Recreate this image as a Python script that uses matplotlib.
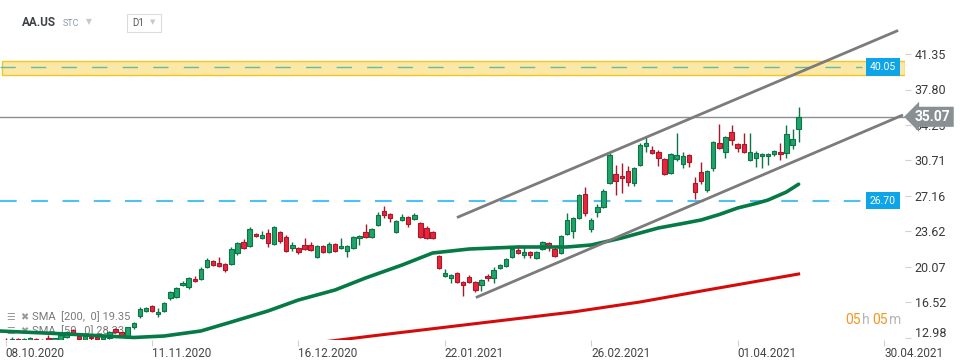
import matplotlib.pyplot as plt
from matplotlib.patches import Rectangle
from matplotlib.transforms import ScaledTranslation

plt.rcParams['font.family'] = ['Roboto', 'DejaVu Sans']

# daily candles, index 0 = 08.10.2020
opens = [12.8, 12.6, 12.9, 12.7, 12.65, 12.9, 12.7, 12.9, 12.8, 12.75,
         13.05, 13.75, 13.15, 12.75, 13.1, 12.95, 12.9, 12.95, 13.85, 13.55,
         13.05, 14.05, 15.15, 15.65, 16.15, 15.35, 15.65, 16.95, 17.05, 18.25,
         18.05, 18.85, 18.85, 20.05, 20.65, 20.45, 20.35, 20.35, 21.45, 22.55,
         22.15, 23.35, 22.95, 23.45, 22.35, 23.55, 23.05, 21.95, 21.95, 22.25,
         22.25, 21.05, 22.15, 21.55, 22.35, 21.95, 21.65, 21.95, 22.95, 23.55,
         23.05, 24.25, 25.65, 25.35, 23.55, 24.75, 25.05, 24.85, 24.45, 23.95,
         23.55, 21.15, 19.15, 18.95, 19.45, 18.55, 19.05, 18.55, 18.25, 19.15,
         18.95, 19.95, 20.15, 21.05, 21.75, 21.25, 21.55, 20.95, 21.85, 22.45,
         21.85, 21.45, 23.35, 23.65, 24.95, 27.35, 23.85, 25.55, 26.05, 28.45,
         29.35, 29.15, 29.65, 28.45, 30.25, 32.15, 31.75, 31.55, 30.85, 29.45,
         30.85, 30.35, 31.25, 28.45, 29.55, 27.75, 29.95, 32.45, 31.55, 33.55,
         32.35, 32.35, 30.75, 30.95, 31.15, 31.15, 31.35, 31.55, 31.45, 32.25,
         33.85]
highs = [13.0, 13.1, 13.0, 12.95, 13.05, 13.0, 12.9, 13.25, 13.0, 13.4,
         13.65, 13.85, 13.3, 13.2, 13.2, 13.1, 13.15, 13.65, 13.95, 13.6,
         14.1, 14.55, 16.05, 16.05, 16.3, 15.95, 16.55, 17.65, 18.05, 18.65,
         19.05, 19.15, 20.05, 20.95, 20.75, 21.05, 20.45, 22.05, 22.6, 22.85,
         24.05, 23.5, 23.65, 23.85, 24.2, 23.7, 23.25, 22.55, 22.05, 22.95,
         22.55, 22.25, 22.25, 22.55, 22.45, 22.95, 22.25, 23.15, 23.3, 24.35,
         23.95, 25.55, 26.15, 25.45, 24.75, 25.35, 25.15, 25.45, 24.55, 24.15,
         23.7, 21.3, 19.85, 19.35, 19.55, 18.65, 19.25, 18.65, 18.85, 19.35,
         20.05, 20.35, 20.95, 21.95, 22.25, 22.05, 21.65, 21.65, 22.65, 22.55,
         22.15, 23.25, 25.45, 25.05, 27.35, 28.05, 24.95, 26.35, 27.85, 31.45,
         30.25, 30.45, 30.15, 30.05, 32.45, 33.05, 32.15, 31.75, 30.95, 31.45,
         33.45, 31.55, 31.35, 29.05, 30.55, 29.75, 32.65, 34.35, 33.15, 34.25,
         32.45, 33.45, 33.45, 31.65, 31.45, 31.45, 31.75, 32.45, 34.25, 33.85,
         36.05]
lows = [12.4, 12.5, 12.5, 12.5, 12.55, 12.5, 12.4, 12.6, 12.6, 12.7,
        12.95, 13.35, 12.8, 12.7, 12.8, 12.7, 12.8, 12.9, 13.5, 13.05,
        13.0, 13.85, 15.0, 15.6, 15.6, 15.05, 15.6, 16.75, 16.95, 18.2,
        17.9, 18.6, 18.8, 19.95, 20.2, 20.05, 19.55, 20.3, 21.25, 21.9,
        22.05, 23.05, 22.9, 22.05, 22.25, 22.5, 21.55, 21.65, 21.35, 21.75,
        21.65, 20.95, 21.45, 21.45, 21.55, 21.85, 21.05, 21.85, 22.25, 22.95,
        22.95, 24.15, 24.95, 24.55, 23.45, 24.65, 24.1, 24.75, 22.95, 22.85,
        22.85, 19.85, 19.05, 18.45, 18.45, 17.15, 18.45, 17.55, 17.65, 18.65,
        18.45, 19.85, 20.05, 20.95, 21.35, 20.95, 20.95, 20.85, 21.75, 21.65,
        21.05, 21.35, 23.25, 22.95, 24.85, 25.15, 23.55, 25.05, 25.95, 28.35,
        27.25, 27.45, 28.15, 28.15, 30.15, 31.55, 31.35, 30.15, 29.25, 29.35,
        30.65, 29.95, 30.05, 26.85, 28.35, 27.55, 29.65, 31.85, 30.95, 32.25,
        31.55, 31.45, 30.65, 30.05, 29.95, 30.25, 31.15, 30.75, 30.95, 31.85,
        32.55]
closes = [12.6, 12.9, 12.7, 12.8, 12.95, 12.7, 12.6, 12.8, 12.9, 13.25,
          13.55, 13.45, 12.85, 13.15, 12.95, 12.9, 13.0, 13.55, 13.55, 13.15,
          14.05, 14.45, 15.85, 15.95, 15.65, 15.55, 16.45, 17.55, 17.95, 18.45,
          18.95, 18.65, 19.85, 20.75, 20.25, 20.15, 19.75, 21.85, 22.45, 21.95,
          23.85, 23.15, 23.25, 22.45, 24.05, 22.65, 21.65, 22.25, 21.55, 21.85,
          21.75, 22.15, 21.55, 22.35, 21.65, 22.15, 22.15, 23.05, 23.15, 23.05,
          23.85, 25.25, 25.25, 24.95, 24.65, 25.05, 24.35, 25.25, 23.05, 22.95,
          22.95, 19.95, 19.45, 19.25, 18.55, 18.25, 18.55, 17.75, 18.75, 18.95,
          19.75, 20.25, 20.85, 21.85, 21.45, 21.55, 21.25, 21.55, 22.55, 22.05,
          21.15, 23.15, 24.75, 24.95, 27.25, 25.45, 24.75, 26.05, 27.65, 31.25,
          28.65, 28.95, 28.55, 29.95, 32.25, 32.45, 31.45, 30.95, 29.35, 31.35,
          31.25, 31.15, 30.55, 27.55, 28.65, 29.65, 32.55, 31.95, 33.05, 32.75,
          31.95, 31.55, 31.55, 31.45, 31.35, 31.35, 31.65, 31.35, 33.35, 32.85,
          35.07]

# moving averages
sma50_idx = [-1, 10, 21, 26, 32, 37, 43, 48, 54, 59, 65, 70, 73, 76, 84, 92, 96,
             101, 107, 111, 114, 117, 120, 123, 125, 128, 130]
sma50_val = [13.65, 13.35, 13.0, 13.15, 13.65, 14.55, 15.65, 16.75, 17.75, 18.95,
             20.25, 21.45, 21.65, 21.85, 22.05, 22.05, 22.25, 22.95, 23.95, 24.4,
             24.75, 25.3, 25.95, 26.4, 26.75, 27.55, 28.33]
sma200_idx = [50, 60, 71, 82, 93, 104, 115, 130]
sma200_val = [12.4, 13.15, 13.95, 14.75, 15.55, 16.55, 17.75, 19.35]

# trend channel
upper_idx = [74.2, 146.1]
upper_val = [25.05, 43.65]
lower_idx = [77.3, 146.9]
lower_val = [17.05, 35.2]

# levels
zone_low, zone_high = 39.3, 40.65
zone_level = 40.05
support_level = 26.70
last_price = 35.07

date_pos = [0, 24, 48, 72, 96, 120, 144]
date_labels = ['08.10.2020', '11.11.2020', '16.12.2020', '22.01.2021',
               '26.02.2021', '01.04.2021', '30.04.2021']
price_ticks = [41.35, 37.80, 34.25, 30.71, 27.16, 23.62, 20.07, 16.52, 12.98]

W, H = 970, 364
fig = plt.figure(figsize=(W / 100, H / 100), dpi=100)
ax = fig.add_axes([0, 24 / H, 905 / W, 340 / H])
ax.set_xlim(-0.92, 147.44)
ax.set_ylim(12.75, 46.75)
for s in ax.spines.values():
    s.set_visible(False)

def px(x, y):
    return x / W, 1 - y / H

# candles
up_face, up_edge = '#20a46b', '#0d7445'
dn_face, dn_edge = '#e8263b', '#a8182a'
for i in range(len(opens)):
    o, h, l, c = opens[i], highs[i], lows[i], closes[i]
    up = c >= o
    ec = up_edge if up else dn_edge
    fc = up_face if up else dn_face
    ax.vlines(i, l, h, color=ec, lw=1.0, zorder=4)
    ax.bar(i, max(abs(c - o), 0.12), bottom=min(o, c), width=0.72,
           color=fc, edgecolor=ec, linewidth=0.8, zorder=5)

ax.plot(sma50_idx, sma50_val, color='#067a45', lw=2.6, zorder=6,
        solid_capstyle='round', solid_joinstyle='round')
ax.plot(sma200_idx, sma200_val, color='#d50b0b', lw=2.2, zorder=6)

ax.plot(upper_idx, upper_val, color='#7b7b7b', lw=2.0, zorder=6)
ax.plot(lower_idx, lower_val, color='#7b7b7b', lw=2.0, zorder=6)

# resistance zone
ax.axhspan(zone_low, zone_high, xmin=0.002, xmax=1.0, facecolor='#fbe8a6',
           edgecolor='#f2c624', lw=1.0, zorder=1)
ax.axhline(zone_level, xmin=0, xmax=862 / 905, color='#62bd9c', lw=1.0,
           ls=(0, (11, 11)), zorder=2)
ax.axhline(support_level, xmin=0, xmax=862 / 905, color='#4fc0f2', lw=1.5,
           ls=(0, (8, 7)), zorder=2)
ax.axhline(last_price, color='#8a8f93', lw=1.0, zorder=2)

tb = ax.get_yaxis_transform()
for lvl in (zone_level, support_level):
    ax.text(883 / 905, lvl, f'{lvl:.2f}', transform=tb, ha='center', va='center',
            color='white', fontsize=7.5, zorder=8,
            bbox=dict(boxstyle='square,pad=0.38', fc='#0ea4e8', ec='none'))
ax.text(1.011, last_price, f'{last_price:.2f}', transform=tb, ha='left',
        va='center', color='white', fontsize=10, fontweight='bold', zorder=10,
        clip_on=False,
        bbox=dict(boxstyle='larrow,pad=0.22', fc='#899094', ec='none'))

# axes ticks
ax.yaxis.tick_right()
ax.set_yticks(price_ticks)
ax.set_yticklabels([f'{v:.2f}' for v in price_ticks])
ax.tick_params(axis='y', length=4, color='#d0d0d0', labelcolor='#3a3a3a',
               labelsize=9, pad=3)
ax.set_xticks(date_pos)
ax.set_xticklabels(date_labels, ha='left')
ax.tick_params(axis='x', length=4, color='#d0d0d0', labelcolor='#444444',
               labelsize=8.5, pad=1)
bottom_lab = ax.get_yticklabels()[-1]
bottom_lab.set_transform(bottom_lab.get_transform() +
                         ScaledTranslation(0, 4 / 72, fig.dpi_scale_trans))

# header
fig.text(*px(22, 23), 'AA.US', fontsize=8.5, fontweight='bold', color='#3d4247',
         va='center')
fig.text(*px(63, 24), 'STC', fontsize=6.5, color='#8c9aa8', va='center')
fig.text(*px(86, 22), '▼', fontsize=5.5, color='#c8c8c8', va='center',
         family='DejaVu Sans')
fig.add_artist(Rectangle(px(127, 32), 34 / W, 18 / H, transform=fig.transFigure,
                         fc='white', ec='#dcdcdc', lw=0.8))
fig.text(*px(132, 23), 'D1', fontsize=7, color='#555555', va='center')
fig.text(*px(150, 22.5), '▼', fontsize=5, color='#c8c8c8', va='center',
         family='DejaVu Sans')

# indicator legend
for y, label in ((317, 'SMA  [200,  0] 19.35'), (331, 'SMA  [50,  0] 28.33')):
    ax.text(*px(6, y), '☰', transform=fig.transFigure, fontsize=7,
            color='#9a9a9a', va='center', family='DejaVu Sans', zorder=3)
    ax.text(*px(20, y), '✖', transform=fig.transFigure, fontsize=7,
            color='#9a9a9a', va='center', family='DejaVu Sans', zorder=3)
    ax.text(*px(32, y), label, transform=fig.transFigure, fontsize=8,
            color='#7a7a7a', va='center', zorder=3)

# countdown
for x, t, col in ((845, '05', '#f7941d'), (862, 'h', '#b5b5b5'),
                  (872, '05', '#f7941d'), (889, 'm', '#b5b5b5')):
    fig.text(*px(x, 320), t, fontsize=10, color=col, va='center')

fig.savefig('out.png', dpi=100)
